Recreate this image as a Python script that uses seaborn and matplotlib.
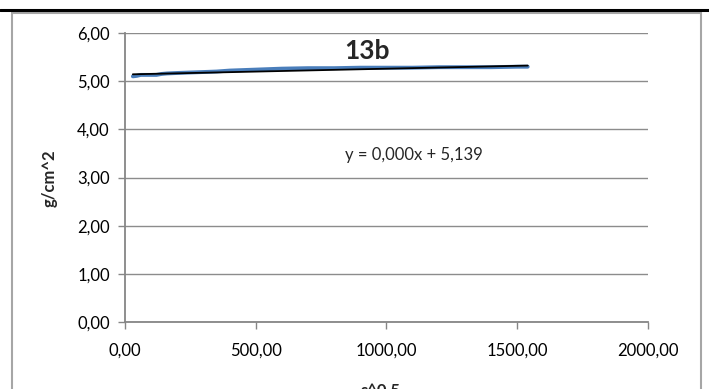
import matplotlib
matplotlib.use("Agg")
import matplotlib.pyplot as plt
import seaborn as sns
import numpy as np
import pandas as pd
from matplotlib.ticker import FuncFormatter, MultipleLocator
from matplotlib.patches import Rectangle
from matplotlib.lines import Line2D

# Measured mass per area against square root of time
sqrt_time = [30, 45, 60, 80, 100, 120, 140, 160, 200, 250, 300, 350, 400, 450,
             500, 550, 600, 700, 800, 900, 1000, 1100, 1200, 1300, 1400, 1500, 1540]
mass_area = [5.10, 5.11, 5.13, 5.13, 5.13, 5.13, 5.15, 5.16, 5.17, 5.18, 5.19, 5.20,
             5.22, 5.23, 5.24, 5.25, 5.26, 5.27, 5.27, 5.28, 5.28, 5.28, 5.29, 5.29,
             5.29, 5.30, 5.30]

# Linear trend (Excel style)
trend_slope = 0.00012
trend_intercept = 5.139

title_text = "13b"
x_label = "s^0,5"
y_label = "g/cm^2"

sns.set_theme(style="white")
plt.rcParams["font.family"] = ["Lato", "DejaVu Sans"]

W, H = 709, 389
fig = plt.figure(figsize=(W / 100, H / 100), dpi=100)

# Outer chart frame and rule line above it
fig.patches.append(Rectangle((12 / W, -0.1), (701 - 12) / W, 1.1 - 13 / H,
                             transform=fig.transFigure, fill=False,
                             edgecolor="#a6a6a6", linewidth=1.5))
fig.lines.append(Line2D([0, 1], [1 - 10 / H, 1 - 10 / H], transform=fig.transFigure,
                        color="black", linewidth=2.2))

ax = fig.add_axes([125 / W, 1 - 322 / H, (648 - 125) / W, (322 - 33) / H])

df = pd.DataFrame({"x": sqrt_time, "y": mass_area})
sns.lineplot(data=df, x="x", y="y", ax=ax, color="#4a7ebb", linewidth=2.8,
             estimator=None, sort=True)

xt = np.array([min(sqrt_time), max(sqrt_time)])
ax.plot(xt, trend_intercept + trend_slope * xt, color="black", linewidth=1.3)

ax.set_xlim(0, 2000)
ax.set_ylim(0, 6)
ax.xaxis.set_major_locator(MultipleLocator(500))
ax.yaxis.set_major_locator(MultipleLocator(1))
fmt = FuncFormatter(lambda v, p: f"{v:.2f}".replace(".", ","))
ax.xaxis.set_major_formatter(fmt)
ax.yaxis.set_major_formatter(fmt)

ax.grid(axis="y", color="#8c8c8c", linewidth=1)
ax.grid(axis="x", visible=False)
ax.set_axisbelow(True)
for s in ["top", "right"]:
    ax.spines[s].set_visible(False)
for s in ["left", "bottom"]:
    ax.spines[s].set_color("#868686")
    ax.spines[s].set_linewidth(1.3)
ax.tick_params(axis="both", which="major", direction="out", length=5, width=1,
               color="#868686", labelsize=12, labelcolor="black", pad=4,
               left=True, bottom=True)
ax.tick_params(axis="x", pad=10)
ax.tick_params(axis="y", pad=6)

ax.set_xlabel("")
ax.set_ylabel("")
fig.text(381 / W, 1 - 391 / H, x_label, ha="center", va="center",
         fontsize=12, fontweight="bold")
fig.text(50 / W, 1 - 178 / H, y_label, ha="center", va="center", rotation=90,
         fontsize=12, fontweight="bold")
fig.text(367 / W, 1 - 51 / H, title_text, ha="center", va="center",
         fontsize=19, fontweight="bold")
fig.text(414 / W, 1 - 155 / H, "y = 0,000x + 5,139", ha="center", va="center",
         fontsize=12)

fig.savefig("out.png", dpi=100)
